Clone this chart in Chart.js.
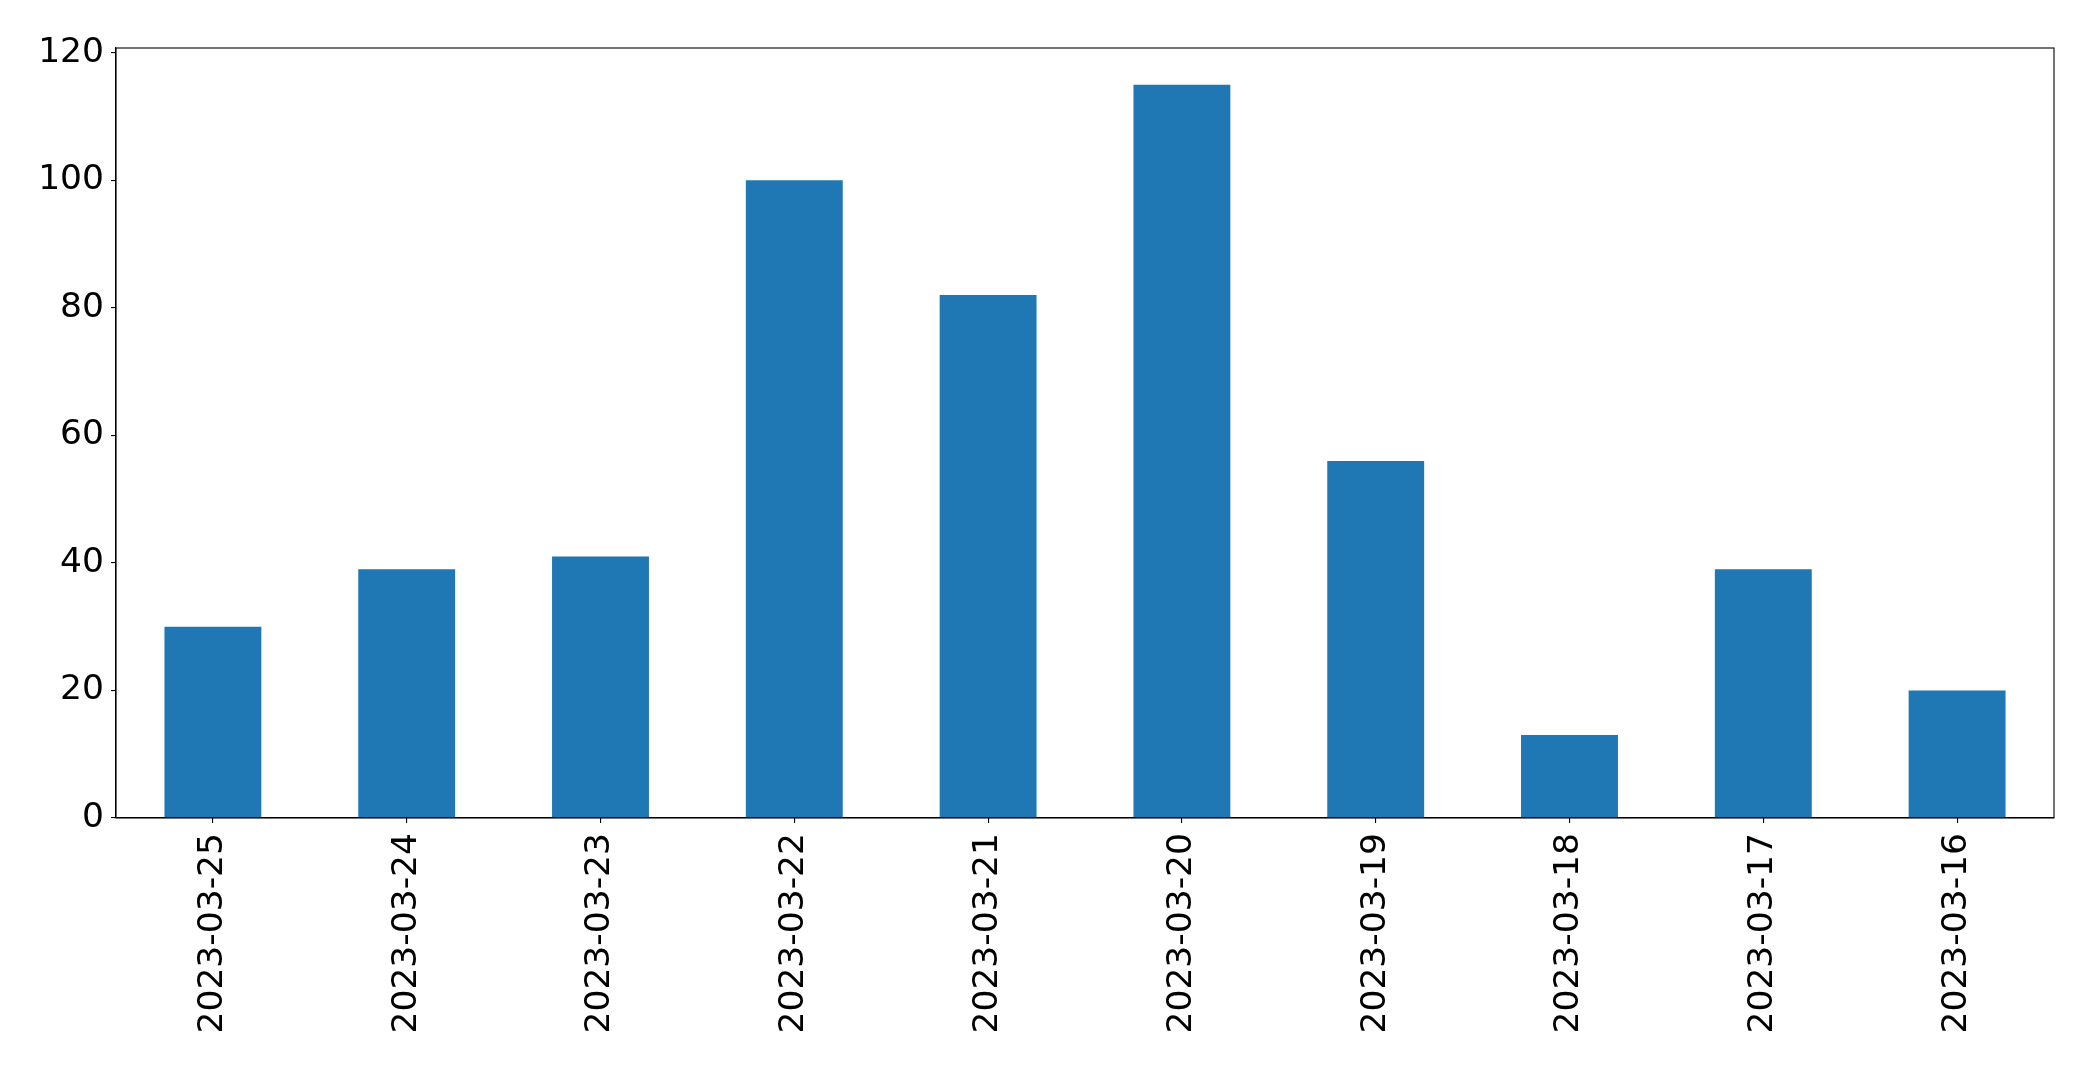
<!DOCTYPE html>
<html>
<head>
<meta charset="utf-8">
<script src="https://cdn.jsdelivr.net/npm/chart.js@4/dist/chart.umd.min.js"></script>
<style>
html,body{margin:0;padding:0;background:#fff;overflow:hidden;}
canvas{display:block;}
</style>
</head>
<body>
<canvas id="c" width="2093" height="1070"></canvas>
<script>
const categories = ["2023-03-25","2023-03-24","2023-03-23","2023-03-22","2023-03-21","2023-03-20","2023-03-19","2023-03-18","2023-03-17","2023-03-16"];
const values = [30, 39, 41, 100, 82, 115, 56, 13, 39, 20];
const yTicks = [0, 20, 40, 60, 80, 100, 120];

const FONT = {family: "'DejaVu Sans', sans-serif", size: 34.5};

const boxPlugin = {
  id: 'box',
  afterDraw(chart) {
    const a = chart.chartArea, ctx = chart.ctx;
    ctx.save();
    ctx.strokeStyle = '#000';
    ctx.lineWidth = 1.1;
    ctx.strokeRect(a.left, a.top, a.right - a.left, a.bottom - a.top);
    ctx.restore();
  }
};

new Chart(document.getElementById('c'), {
  type: 'bar',
  data: {
    labels: categories,
    datasets: [{
      data: values,
      backgroundColor: '#1f77b4',
      borderWidth: 0,
      barPercentage: 0.5,
      categoryPercentage: 1.0
    }]
  },
  options: {
    responsive: false,
    devicePixelRatio: 1,
    animation: false,
    layout: {padding: {top: 48, right: 39, left: 0, bottom: 0}},
    plugins: {legend: {display: false}, tooltip: {enabled: false}},
    scales: {
      x: {
        offset: true,
        grid: {display: true, offset: false, drawOnChartArea: false, drawTicks: true, tickLength: 5, color: '#000', lineWidth: 1.1},
        border: {display: true, color: '#000', width: 1.1},
        ticks: {color: '#000', font: FONT, minRotation: 90, maxRotation: 90, padding: 10, autoSkip: false},
        afterFit(s) { s.height = 1070 - 818; }
      },
      y: {
        min: 0,
        max: 120.75,
        grid: {display: true, drawOnChartArea: false, drawTicks: true, tickLength: 5, color: '#000', lineWidth: 1.1},
        border: {display: true, color: '#000', width: 1.1},
        ticks: {color: '#000', font: FONT, stepSize: 20, padding: 7},
        afterBuildTicks(s) { s.ticks = yTicks.map(v => ({value: v})); },
        afterFit(s) { s.width = 116; }
      }
    }
  },
  plugins: [boxPlugin]
});
</script>
</body>
</html>
